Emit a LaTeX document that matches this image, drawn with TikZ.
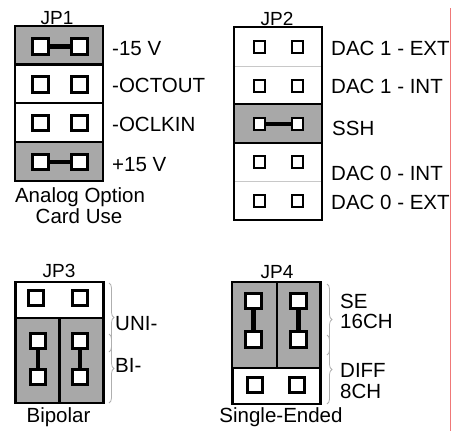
\documentclass[tikz,border=0pt]{standalone}
\usepackage{fontspec}
\setmainfont{Liberation Sans}
\usepackage{tikz}
\usetikzlibrary{positioning, decorations.pathreplacing}

\definecolor{jgray}{RGB}{168,168,168}
\definecolor{sepgray}{RGB}{200,200,200}
\definecolor{bracegray}{RGB}{175,175,175}
\definecolor{edgered}{RGB}{240,120,120}

\begin{document}
\begin{tikzpicture}[x=1pt, y=-1pt,
	row/.style={draw, line width=2.6pt, inner sep=0pt},
	pin/.style={draw, fill=white, line width=3pt, minimum size=15.5pt, inner sep=0pt},
	smallpin/.style={draw, fill=white, line width=2.3pt, minimum size=11.5pt, inner sep=0pt},
	jbar/.style={line width=4.5pt},
	brc/.style={draw=bracegray, line width=0.8pt, decorate, decoration={brace, amplitude=5pt}},
	lbl/.style={anchor=base west, inner sep=0pt, font=\fontsize{20.5}{21}\selectfont},
	undertext/.style={anchor=base, inner sep=0pt, font=\fontsize{20.5}{21}\selectfont},
	jptitle/.style={anchor=base, inner sep=0pt, font=\fontsize{19}{20}\selectfont}
]
\useasboundingbox (0,0) rectangle (460,431);

% JP1
\node [row, fill=jgray, minimum width=88pt, minimum height=39pt] (r11) at (59,45.5) {};
\node [row, fill=white, minimum width=88pt, minimum height=39pt] (r12) at (59,84) {};
\node [row, fill=white, minimum width=88pt, minimum height=39pt] (r13) at (59,122.5) {};
\node [row, fill=jgray, minimum width=88pt, minimum height=39pt] (r14) at (59,161.5) {};

\node [pin] (p11a) at (40.5,46.5) {};
\node [pin] (p11b) at (79.5,46.5) {};
\node [pin] (p12a) at (40.5,84.5) {};
\node [pin] (p12b) at (79.5,84.5) {};
\node [pin] (p13a) at (40.5,123) {};
\node [pin] (p13b) at (79.5,123) {};
\node [pin] (p14a) at (40.5,162) {};
\node [pin] (p14b) at (79.5,162) {};
\draw [jbar] (p11a) -- (p11b);
\draw [jbar] (p14a) -- (p14b);

\node [jptitle] (t1) at (57,24.5) {JP1};
\node [lbl] (l11) at (112,55) {-15 V};
\node [lbl] (l12) at (112,92.5) {-OCTOUT};
\node [lbl] (l13) at (112,131) {-OCLKIN};
\node [lbl] (l14) at (112,171) {+15 V};
\node [undertext] (c1a) at (80,202) {Analog Option};
\node [undertext] (c1b) at (79,223) {Card Use};

% JP2
\node [draw=sepgray, fill=white, minimum width=88pt, minimum height=39pt] (r21) at (278,46.5) {};
\node [draw=sepgray, fill=white, minimum width=88pt, minimum height=39pt] (r22) at (278,85.5) {};
\node [draw=sepgray, fill=white, minimum width=88pt, minimum height=39pt] (r24) at (278,162.5) {};
\node [draw=sepgray, fill=white, minimum width=88pt, minimum height=39pt] (r25) at (278,201) {};
\node [row, fill=jgray, minimum width=88pt, minimum height=39pt] (r23) at (278,123.5) {};
\node [row, minimum width=88pt, minimum height=193pt] (jp2) at (278,123.5) {};

\node [smallpin] (p21a) at (259.5,47) {};
\node [smallpin] (p21b) at (297.5,47) {};
\node [smallpin] (p22a) at (259.5,86) {};
\node [smallpin] (p22b) at (297.5,86) {};
\node [smallpin] (p23a) at (259.5,124) {};
\node [smallpin] (p23b) at (297.5,124) {};
\node [smallpin] (p24a) at (259.5,162) {};
\node [smallpin] (p24b) at (297.5,162) {};
\node [smallpin] (p25a) at (259.5,201) {};
\node [smallpin] (p25b) at (297.5,201) {};
\draw [jbar] (p23a) -- (p23b);

\node [jptitle] (t2) at (277,25) {JP2};
\node [lbl] (l21) at (331,55) {DAC 1 - EXT};
\node [lbl] (l22) at (331,93) {DAC 1 - INT};
\node [lbl] (l23) at (332,135) {SSH};
\node [lbl] (l24) at (331,180) {DAC 0 - INT};
\node [lbl] (l25) at (331,209) {DAC 0 - EXT};

% JP3
\node [row, fill=white, minimum width=88pt, minimum height=36pt] (r31) at (59.5,300) {};
\node [row, fill=jgray, minimum width=44pt, minimum height=85pt] (r32) at (37.5,360.5) {};
\node [row, fill=jgray, minimum width=44pt, minimum height=85pt] (r33) at (81.5,360.5) {};

\node [pin] (p31a) at (36,298) {};
\node [pin] (p31b) at (80,298) {};
\node [pin] (p32a) at (38,341) {};
\node [pin] (p32b) at (38,377) {};
\node [pin] (p33a) at (80,341) {};
\node [pin] (p33b) at (80,377) {};
\draw [jbar] (p32a) -- (p32b);
\draw [jbar] (p33a) -- (p33b);

\coordinate (b31a) at (109,283);
\coordinate (b31b) at (109,352);
\coordinate (b32a) at (109,334);
\coordinate (b32b) at (109,403);
\path [brc] (b31a) -- (b31b);
\path [brc] (b32a) -- (b32b);

\node [jptitle] (t3) at (59,277.5) {JP3};
\node [lbl] (l31) at (115,330) {UNI-};
\node [lbl] (l32) at (115,372) {BI-};
\node [undertext] (c3) at (58.5,422) {Bipolar};

% JP4
\node [row, fill=jgray, minimum width=45pt, minimum height=86pt] (r41) at (254.5,325) {};
\node [row, fill=jgray, minimum width=43.5pt, minimum height=86pt] (r42) at (298.75,325) {};
\node [row, fill=white, minimum width=88.5pt, minimum height=36pt] (r43) at (276.5,386) {};

\node [pin] (p41a) at (253.5,301) {};
\node [pin] (p41b) at (253.5,339.5) {};
\node [pin] (p42a) at (298.5,301) {};
\node [pin] (p42b) at (298.5,339.5) {};
\node [pin] (p43a) at (255,385) {};
\node [pin] (p43b) at (297,385) {};
\draw [jbar] (p41a) -- (p41b);
\draw [jbar] (p42a) -- (p42b);

\coordinate (b41a) at (327,284);
\coordinate (b41b) at (327,355);
\coordinate (b42a) at (327,335);
\coordinate (b42b) at (327,404);
\path [brc] (b41a) -- (b41b);
\path [brc] (b42a) -- (b42b);

\node [jptitle] (t4) at (277,278.5) {JP4};
\node [lbl] (l41) at (340,308) {SE};
\node [lbl] (l42) at (340,328) {16CH};
\node [lbl] (l43) at (340,377) {DIFF};
\node [lbl] (l44) at (340,398) {8CH};
\node [undertext] (c4) at (281,422) {Single-Ended};

% page edge
\draw [edgered, line width=1pt] (450,8) -- (450,431);

\end{tikzpicture}
\end{document}
